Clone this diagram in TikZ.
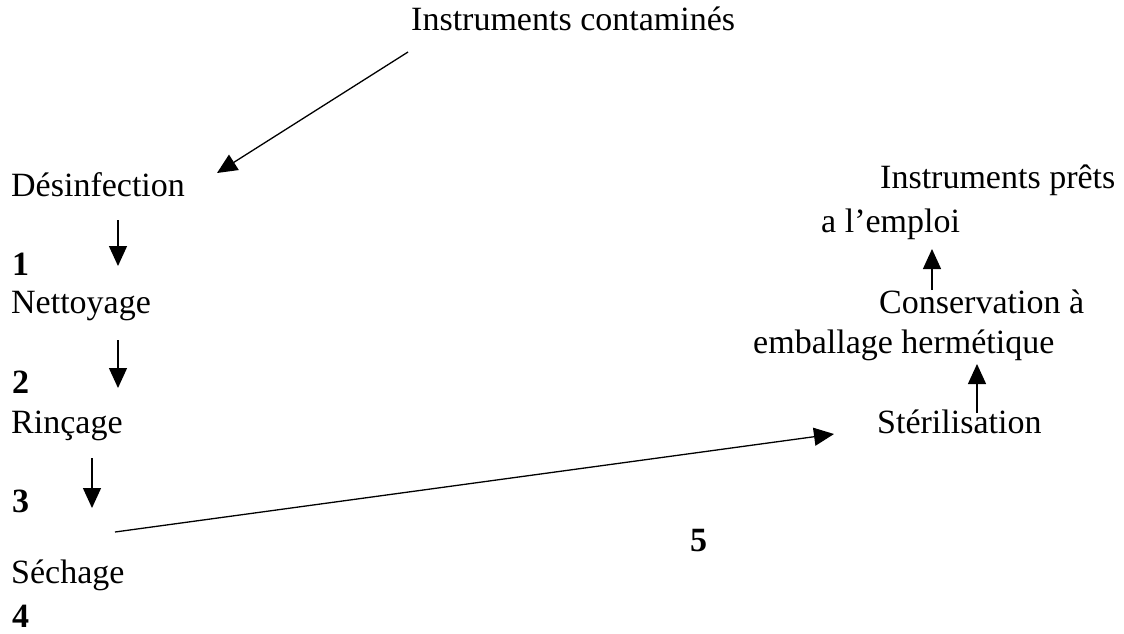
\documentclass[tikz,border=0pt]{standalone}
\usepackage{fontspec}
\setmainfont{Liberation Serif}
\usetikzlibrary{arrows.meta}

\begin{document}
\begin{tikzpicture}[
        x=1pt, y=-1pt,
        >={Triangle[length=20pt, width=18pt]},
        every node/.style={
          inner sep=0pt,
          anchor=base west,
          font=\fontsize{34}{38}\selectfont
        },
        numero/.style={font=\fontsize{34}{38}\selectfont\bfseries},
        fleche/.style={->, line width=1.3pt}
      ]
      \useasboundingbox (0,0) rectangle (1124,633);

      % texts
      \node (contam) at (411,30)  {Instruments contaminés};
      \node (desinf) at (11,196)  {Désinfection};
      \node[numero] (n1) at (12,275) {1};
      \node (nett)   at (11,313)  {Nettoyage};
      \node[numero] (n2) at (12,393) {2};
      \node (rinc)   at (11,433)  {Rinçage};
      \node[numero] (n3) at (12,512) {3};
      \node (sech)   at (11,583)  {Séchage};
      \node[numero] (n4) at (12,627) {4};
      \node[numero] (n5) at (690,551) {5};
      \node (pret)   at (880,188) {Instruments prêts};
      \node (pretb)  at (821,232) {a l’emploi};
      \node (cons)   at (879,313) {Conservation à};
      \node (consb)  at (753,353) {emballage hermétique};
      \node (steril) at (877,433) {Stérilisation};

      % arrow ends
      \coordinate (c0) at (408,52);  \coordinate (c1) at (217,173);
      \coordinate (d0) at (118,220); \coordinate (d1) at (118,266);
      \coordinate (e0) at (118,340); \coordinate (e1) at (118,388);
      \coordinate (f0) at (92,458);  \coordinate (f1) at (92,508);
      \coordinate (g0) at (115,532); \coordinate (g1) at (834,434);
      \coordinate (h0) at (977,413); \coordinate (h1) at (977,364);
      \coordinate (k0) at (932,290); \coordinate (k1) at (932,249);

      \draw[fleche] (c0) -- (c1);
      \draw[fleche] (d0) -- (d1);
      \draw[fleche] (e0) -- (e1);
      \draw[fleche] (f0) -- (f1);
      \draw[fleche] (g0) -- (g1);
      \draw[fleche] (h0) -- (h1);
      \draw[fleche] (k0) -- (k1);
    \end{tikzpicture}
\end{document}
